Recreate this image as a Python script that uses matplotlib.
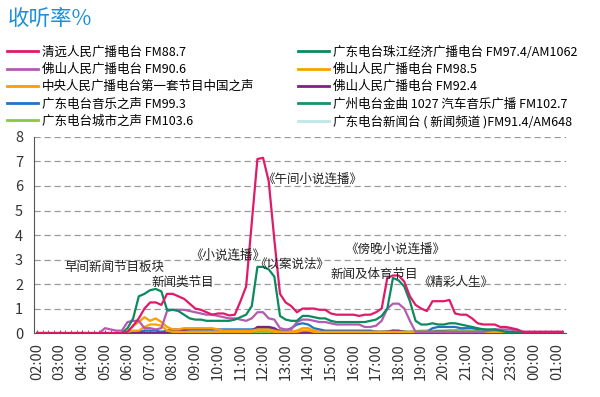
import numpy as np
import matplotlib
matplotlib.use("Agg")
import matplotlib.pyplot as plt
from matplotlib.ticker import MultipleLocator

plt.rcParams['font.family'] = ['Noto Sans CJK SC', 'DejaVu Sans']

# time axis: 15-minute steps from 02:00 to 01:15
hour_labels = ['02:00', '03:00', '04:00', '05:00', '06:00', '07:00', '08:00', '09:00',
               '10:00', '11:00', '12:00', '13:00', '14:00', '15:00', '16:00', '17:00',
               '18:00', '19:00', '20:00', '21:00', '22:00', '23:00', '00:00', '01:00']

qy887 = [0]*16 + [
    0.05, 0.3, 0.6, 1.0,      # 06
    1.25, 1.25, 1.15, 1.6,    # 07
    1.6, 1.5, 1.4, 1.2,       # 08
    1.0, 0.95, 0.85, 0.75,    # 09
    0.8, 0.8, 0.72, 0.75,     # 10
    1.3, 1.9, 4.5, 7.1,       # 11
    7.15, 6.2, 3.8, 1.6,      # 12
    1.25, 1.1, 0.85, 1.0,     # 13
    1.0, 1.0, 0.95, 0.95,     # 14
    0.8, 0.75, 0.75, 0.75,    # 15
    0.75, 0.7, 0.75, 0.75,    # 16
    0.85, 1.0, 2.25, 2.35,    # 17
    2.35, 2.1, 1.5, 1.15,     # 18
    1.0, 0.9, 1.3, 1.3,       # 19
    1.3, 1.35, 0.8, 0.75,     # 20
    0.75, 0.6, 0.4, 0.35,     # 21
    0.35, 0.35, 0.25, 0.25,   # 22
    0.2, 0.15, 0.05, 0.05,    # 23
    0.05, 0.05, 0.05, 0.05,   # 00
    0.05, 0.05]               # 01

zj974 = [0]*16 + [
    0.2, 0.6, 1.5, 1.6,
    1.75, 1.8, 1.7, 0.95,
    0.95, 0.9, 0.75, 0.6,
    0.55, 0.55, 0.5, 0.5,
    0.5, 0.5, 0.5, 0.55,
    0.65, 0.75, 1.1, 2.7,
    2.7, 2.6, 2.3, 0.7,
    0.55, 0.5, 0.5, 0.7,
    0.7, 0.65, 0.6, 0.6,
    0.5, 0.45, 0.45, 0.45,
    0.45, 0.45, 0.45, 0.5,
    0.55, 0.7, 1.0, 2.25,
    2.15, 1.9, 1.3, 0.5,
    0.35, 0.35, 0.4, 0.35,
    0.35, 0.4, 0.4, 0.35,
    0.3, 0.25, 0.2, 0.15,
    0.15, 0.15, 0.1, 0.05,
    0.05, 0.03, 0.03, 0.03,
    0.03, 0.03, 0.03, 0.03,
    0.03, 0.03]

fs906 = [0]*12 + [
    0.2, 0.15, 0.1, 0.1,
    0.45, 0.5, 0.5, 0.2,
    0.2, 0.15, 0.2, 0.9,
    0.95, 0.95, 0.95, 0.9,
    0.85, 0.8, 0.75, 0.75,
    0.7, 0.65, 0.6, 0.6,
    0.55, 0.5, 0.6, 0.85,
    0.85, 0.6, 0.55, 0.2,
    0.15, 0.15, 0.45, 0.55,
    0.55, 0.5, 0.45, 0.45,
    0.4, 0.35, 0.35, 0.35,
    0.35, 0.35, 0.25, 0.25,
    0.3, 0.5, 1.0, 1.2,
    1.2, 1.0, 0.5, 0.05,
    0.05, 0.05, 0.05, 0.05,
    0.05, 0.05, 0.05, 0.05,
    0.05, 0.05, 0.05, 0.05,
    0.1, 0.15, 0.15, 0.15,
    0.15, 0.1, 0.05, 0.05,
    0.05, 0.05, 0.05, 0.05,
    0.05, 0.05]

zgzs = [0]*16 + [
    0.05, 0.3, 0.45, 0.65,
    0.5, 0.6, 0.45, 0.25,
    0.15, 0.15, 0.2, 0.2,
    0.2, 0.2, 0.2, 0.2,
    0.15, 0.1, 0.1, 0.1,
    0.1, 0.1, 0.1, 0.15,
    0.15, 0.15, 0.1, 0.05,
    0.05, 0.05, 0.1, 0.2,
    0.2, 0.1, 0.05, 0.05,
    0.05, 0.05, 0.05, 0.05,
    0.05, 0.05, 0.05, 0.05,
    0.05, 0.05, 0.05, 0.05,
    0.05, 0.05, 0.05, 0.05,
    0.05, 0.05, 0.05, 0.05,
    0.05, 0.05, 0.05, 0.0,
    -0.03, -0.03, 0.0, 0.02,
    0.02, 0.02, 0.02, 0.02,
    0.02, 0.02, 0.02, 0.02,
    0.02, 0.02, 0.02, 0.02,
    0.02, 0.02]

fs985 = [0]*16 + [
    0.05, 0.1, 0.1, 0.25,
    0.35, 0.35, 0.3, 0.1,
    0.05, 0.05, 0.05, 0.05,
    0.05, 0.05, 0.05, 0.05,
    0.05, 0.05, 0.05, 0.05,
    0.05, 0.05, 0.05, 0.1,
    0.1, 0.1, 0.05, 0.05,
    0.05, 0.05, 0.05, 0.1,
    0.1, 0.05, 0.03, 0.03,
    0.03, 0.03, 0.03, 0.03,
    0.03, 0.03, 0.03, 0.03,
    0.03, 0.03, 0.03, 0.03,
    0.03, 0.03, 0.03, 0.03,
    0.03, 0.03, 0.03, 0.03,
    0.03, 0.03, 0.03, 0.03,
    0.03, 0.03, 0.03, 0.03,
    0.03, 0.03, 0.03, 0.03,
    0.03, 0.03, 0.03, 0.03,
    0.03, 0.03, 0.03, 0.03,
    0.03, 0.03]

yyzs = [0]*18 + [
    0.05, 0.1,
    0.1, 0.1, 0.05, 0.1,
    0.15, 0.15, 0.15, 0.15,
    0.15, 0.15, 0.15, 0.15,
    0.15, 0.15, 0.15, 0.15,
    0.15, 0.15, 0.15, 0.2,
    0.2, 0.2, 0.15, 0.1,
    0.1, 0.2, 0.35, 0.4,
    0.35, 0.2, 0.15, 0.1,
    0.1, 0.1, 0.1, 0.1,
    0.1, 0.1, 0.1, 0.1,
    0.05, 0.05, 0.05, 0.05,
    0.05, 0.05, 0.05, 0.05,
    0.05, 0.05, 0.2, 0.25,
    0.25, 0.25, 0.25, 0.2,
    0.2, 0.2, 0.15, 0.15,
    0.1, 0.1, 0.05, 0.05,
    0.05, 0.05, 0.03, 0.03,
    0.03, 0.03, 0.03, 0.03,
    0.03, 0.03]

fs924 = [0]*24 + [
    0.1, 0.1, 0.1, 0.05,
    0.05, 0.05, 0.05, 0.05,
    0.05, 0.05, 0.05, 0.05,
    0.05, 0.05, 0.05, 0.25,
    0.25, 0.25, 0.2, 0.05,
    0.05, 0.05, 0.05, 0.05,
    0.05, 0.05, 0.05, 0.05,
    0.05, 0.05, 0.05, 0.05,
    0.05, 0.05, 0.05, 0.05,
    0.05, 0.05, 0.05, 0.1,
    0.1, 0.05, 0.03, 0.03,
    0.03, 0.03, 0.03, 0.03,
    0.03, 0.03, 0.03, 0.03,
    0.03, 0.03, 0.03, 0.03,
    0.03, 0.03, 0.03, 0.03,
    0.03, 0.03, 0.03, 0.03,
    0.03, 0.03, 0.03, 0.03,
    0.03, 0.03]

gz1027 = [0]*24 + [
    0.05, 0.05, 0.05, 0.05,
    0.05, 0.05, 0.05, 0.05,
    0.05, 0.05, 0.05, 0.05,
    0.05, 0.05, 0.05, 0.1,
    0.1, 0.1, 0.05, 0.03,
    0.03, 0.03, 0.03, 0.03,
    0.03, 0.03, 0.03, 0.03,
    0.03, 0.03, 0.03, 0.03,
    0.03, 0.03, 0.03, 0.03,
    0.03, 0.03, 0.05, 0.05,
    0.05, 0.05, 0.03, 0.03,
    0.03, 0.03, 0.05, 0.08,
    0.08, 0.05, 0.05, 0.05,
    0.03, 0.03, 0.03, 0.03,
    0.03, 0.03, 0.03, 0.03,
    0.02, 0.02, 0.02, 0.02,
    0.02, 0.02, 0.02, 0.02,
    0.02, 0.02]

csz = [0]*24 + [
    0.02, 0.02, 0.02, 0.02,
    0.02, 0.02, 0.02, 0.02,
    0.02, 0.02, 0.02, 0.02,
    0.02, 0.02, 0.02, 0.05,
    0.05, 0.05, 0.02, 0.02,
    0.02, 0.02, 0.02, 0.02,
    0.02, 0.02, 0.02, 0.02,
    0.02, 0.02, 0.02, 0.02,
    0.02, 0.02, 0.05, 0.05,
    0.05, 0.05, 0.08, 0.1,
    0.05, 0.05, 0.05, 0.08,
    0.1, 0.1, 0.1, 0.1,
    0.1, 0.12, 0.12, 0.15,
    0.1, 0.1, 0.08, 0.05,
    0.05, 0.05, 0.03, 0.03,
    0.02, 0.02, 0.02, 0.02,
    0.02, 0.02, 0.02, 0.02,
    0.02, 0.02]

xwt = [0]*24 + [0.1, 0.08] + [0.03]*68

labels = ['清远人民广播电台 FM88.7', '佛山人民广播电台 FM90.6',
          '中央人民广播电台第一套节目中国之声', '广东电台音乐之声 FM99.3',
          '广东电台城市之声 FM103.6',
          '广东电台珠江经济广播电台 FM97.4/AM1062', '佛山人民广播电台 FM98.5',
          '佛山人民广播电台 FM92.4', '广州电台金曲 1027 汽车音乐广播 FM102.7',
          '广东电台新闻台 ( 新闻频道 )FM91.4/AM648']
series = [qy887, fs906, zgzs, yyzs, csz, zj974, fs985, fs924, gz1027, xwt]
colors = ['#e01a6a', '#b35ab1', '#ff9c00', '#1f74c8', '#8cc63e',
          '#0b8a60', '#f7a400', '#7b2282', '#13946a', '#bfe6e8']
zorders = [9, 6, 5, 4, 3, 8, 5, 4, 3, 2]

notes = ['早间新闻节目板块', '新闻类节目', '《小说连播》', '《以案说法》', '《午间小说连播》',
         '《傍晚小说连播》', '新闻及体育节目', '《精彩人生》']
note_x = [3.41, 6.46, 8.45, 11.28, 12.2, 15.84, 14.9, 18.54]
note_y = [2.66, 2.05, 3.16, 2.79, 6.27, 3.4, 2.38, 2.05]

fig = plt.figure(figsize=(6, 3.97), dpi=100)
ax = fig.add_axes([0.057, 0.161, 0.886, 0.494])

hours = np.arange(len(qy887)) * 0.25
lines = []
for vals, c, z, lab in zip(series, colors, zorders, labels):
    ln, = ax.plot(hours, vals, color=c, lw=1.6, zorder=z, label=lab)
    lines.append(ln)

for t, x, y in zip(notes, note_x, note_y):
    ax.text(x, y, t, ha='center', va='center', fontsize=9, color='#222222', zorder=10)

ax.set_xlim(-0.13, 23.4)
ax.set_ylim(0, 8)
ax.set_xticks(np.arange(24))
ax.set_xticklabels(hour_labels, rotation=90, fontsize=10.5, color='#333333')
ax.xaxis.set_minor_locator(MultipleLocator(0.25))
ax.tick_params(axis='x', which='both', direction='in', length=2, color='#555555', pad=7)
ax.set_yticks(range(9))
ax.tick_params(axis='y', labelsize=10.5, length=0, pad=8, labelcolor='#333333')
ax.grid(axis='y', linestyle=(0, (5, 3)), color='#9a9a9a', lw=0.9)
ax.set_axisbelow(True)
for s in ['top', 'right']:
    ax.spines[s].set_visible(False)
ax.spines['left'].set_color('#555555')
ax.spines['bottom'].set_color('#555555')

fig.text(0.013, 0.953, '收听率%', color='#1e8fd6', fontsize=15.5, va='center')

leg1 = fig.legend(handles=lines[:5], loc='upper left', bbox_to_anchor=(0.012, 0.885),
                  frameon=False, fontsize=9, handlelength=2.5, handletextpad=0.3,
                  labelspacing=0.34, borderpad=0, borderaxespad=0)
leg2 = fig.legend(handles=lines[5:], loc='upper left', bbox_to_anchor=(0.497, 0.885),
                  frameon=False, fontsize=9, handlelength=2.5, handletextpad=0.3,
                  labelspacing=0.34, borderpad=0, borderaxespad=0)
for lg in (leg1, leg2):
    for h in lg.get_lines():
        h.set_linewidth(2)

plt.savefig('out.png', dpi=100)
